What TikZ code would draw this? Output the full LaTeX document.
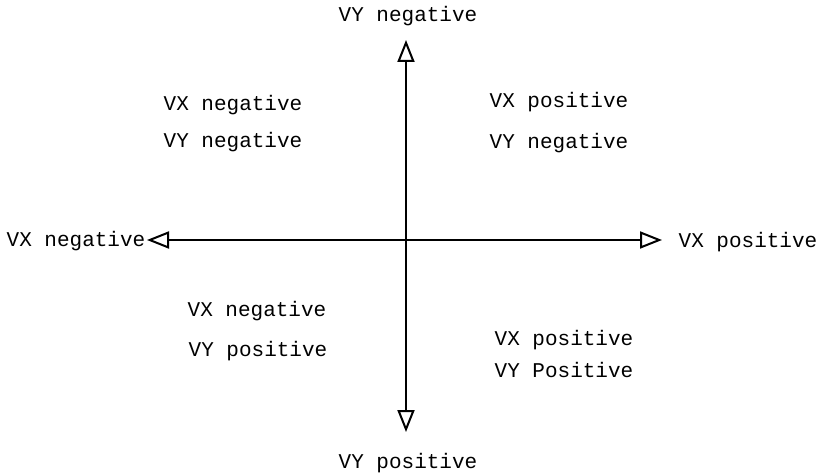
\documentclass[tikz,border=0pt]{standalone}
\usepackage{fontspec}
\setmonofont{Liberation Mono}
\usetikzlibrary{arrows.meta}
\begin{document}
\begin{tikzpicture}[x=1pt,y=-1pt,
    every node/.style={inner sep=1.5pt,font=\ttfamily\fontsize{21}{23}\selectfont},
    axis/.style={line width=1.8pt,-{Triangle[open,length=22pt,width=17pt,line width=2pt]}}]
      \useasboundingbox (0,0) rectangle (827,473);

      \coordinate (O) at (406,240);
      \coordinate (up) at (406,40);
      \coordinate (down) at (406,432);
      \coordinate (left) at (147,240);
      \coordinate (right) at (662,240);

      \node (top) at (408,16) {VY negative};
      \node (bot) at (408,463) {VY positive};
      \node (lft) at (76,241) {VX negative};
      \node (rgt) at (748,242) {VX positive};

      \node (q1a) at (233,105) {VX negative};
      \node (q1b) at (233,142) {VY negative};
      \node (q2a) at (559,102) {VX positive};
      \node (q2b) at (559,143) {VY negative};
      \node (q3a) at (257,311) {VX negative};
      \node (q3b) at (258,351) {VY positive};
      \node (q4a) at (564,340) {VX positive};
      \node (q4b) at (564,370) {VY Positive};

      \draw[axis] (O) -- (up);
      \draw[axis] (O) -- (down);
      \draw[axis] (O) -- (left);
      \draw[axis] (O) -- (right);
    \end{tikzpicture}
\end{document}
